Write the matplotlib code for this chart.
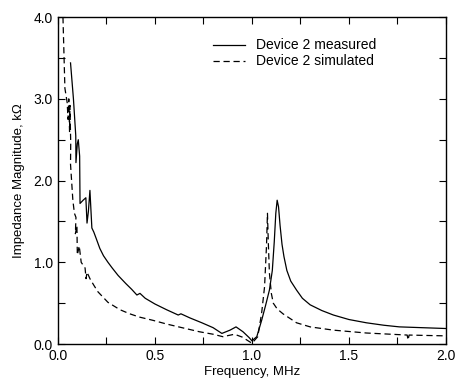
import matplotlib.pyplot as plt
from matplotlib.ticker import MultipleLocator

plt.rcParams['font.family'] = ['Liberation Sans', 'DejaVu Sans']

# Device 2 measured (solid)
meas_f = [0.065, 0.080, 0.092, 0.093, 0.100, 0.105, 0.112, 0.114, 0.130, 0.144,
          0.150, 0.157, 0.165, 0.175, 0.185, 0.196, 0.216, 0.235, 0.258, 0.28,
          0.31, 0.35, 0.38, 0.407, 0.423, 0.45, 0.50, 0.56, 0.62, 0.634,
          0.68, 0.742, 0.80, 0.845, 0.887, 0.918, 0.954, 0.985, 1.000, 1.025,
          1.05, 1.07, 1.09, 1.105, 1.115, 1.123, 1.13, 1.137, 1.145, 1.155,
          1.165, 1.18, 1.20, 1.23, 1.26, 1.30, 1.36, 1.42, 1.50, 1.59,
          1.68, 1.76, 1.88, 2.00]
meas_z = [3.44, 3.00, 2.55, 2.22, 2.45, 2.50, 2.30, 1.72, 1.76, 1.79,
          1.48, 1.62, 1.88, 1.42, 1.37, 1.30, 1.17, 1.08, 1.00, 0.93,
          0.84, 0.74, 0.67, 0.60, 0.62, 0.56, 0.49, 0.42, 0.355, 0.37,
          0.32, 0.26, 0.20, 0.13, 0.17, 0.21, 0.15, 0.08, 0.04, 0.09,
          0.29, 0.47, 0.66, 0.90, 1.25, 1.60, 1.76, 1.68, 1.45, 1.22,
          1.07, 0.90, 0.77, 0.66, 0.56, 0.48, 0.41, 0.355, 0.30, 0.26,
          0.23, 0.21, 0.20, 0.19]

# Device 2 simulated (dashed)
sim_f = [0.026, 0.036, 0.048, 0.052, 0.056, 0.060, 0.062, 0.066, 0.065, 0.068,
         0.077, 0.085, 0.093, 0.090, 0.098, 0.100, 0.110, 0.120, 0.140, 0.145,
         0.150, 0.165, 0.185, 0.206, 0.258, 0.32, 0.37, 0.42, 0.49, 0.56,
         0.64, 0.73, 0.80, 0.85, 0.91, 0.95, 1.00, 1.03, 1.05, 1.065,
         1.075, 1.08, 1.085, 1.09, 1.10, 1.11, 1.13, 1.16, 1.23, 1.30,
         1.42, 1.59, 1.80, 1.805, 1.81, 1.90, 2.00]
sim_z = [4.00, 3.13, 2.95, 2.75, 3.00, 2.60, 2.92, 2.46, 2.20, 2.09,
         1.76, 1.60, 1.55, 1.35, 1.45, 1.09, 1.20, 1.00, 0.93, 0.80,
         0.88, 0.80, 0.72, 0.64, 0.51, 0.42, 0.37, 0.33, 0.29, 0.245,
         0.20, 0.15, 0.12, 0.09, 0.12, 0.085, 0.01, 0.09, 0.38, 0.70,
         1.20, 1.60, 1.20, 0.87, 0.62, 0.50, 0.43, 0.37, 0.26, 0.21,
         0.17, 0.135, 0.11, 0.05, 0.11, 0.105, 0.10]

fig = plt.figure(figsize=(4.56, 3.81), dpi=100)
ax = fig.add_axes([0.127, 0.097, 0.851, 0.858])

ax.plot(meas_f, meas_z, color='black', lw=0.9, label='Device 2 measured')
ax.plot(sim_f, sim_z, color='black', lw=0.9, linestyle=(0, (5, 3)),
        label='Device 2 simulated')

ax.set_xlim(0, 2.0)
ax.set_ylim(0, 4.0)
ax.xaxis.set_major_locator(MultipleLocator(0.5))
ax.xaxis.set_minor_locator(MultipleLocator(0.25))
ax.yaxis.set_major_locator(MultipleLocator(1.0))
ax.yaxis.set_minor_locator(MultipleLocator(0.5))
ax.xaxis.set_major_formatter(plt.FormatStrFormatter('%.1f'))
ax.yaxis.set_major_formatter(plt.FormatStrFormatter('%.1f'))
ax.tick_params(which='both', direction='in', top=True, right=True,
               labelsize=10, width=0.8, length=5)
for s in ax.spines.values():
    s.set_linewidth(1.0)

ax.set_xlabel('Frequency, MHz', fontsize=9.5, labelpad=2)
ax.set_ylabel('Impedance Magnitude, kΩ', fontsize=9.5, labelpad=6)

ax.legend(loc='upper left', bbox_to_anchor=(0.40, 0.935), frameon=False,
          fontsize=10, handlelength=2.3, handletextpad=0.8, labelspacing=0.15,
          borderpad=0, borderaxespad=0)

fig.savefig('out.png', dpi=100, facecolor='white')
